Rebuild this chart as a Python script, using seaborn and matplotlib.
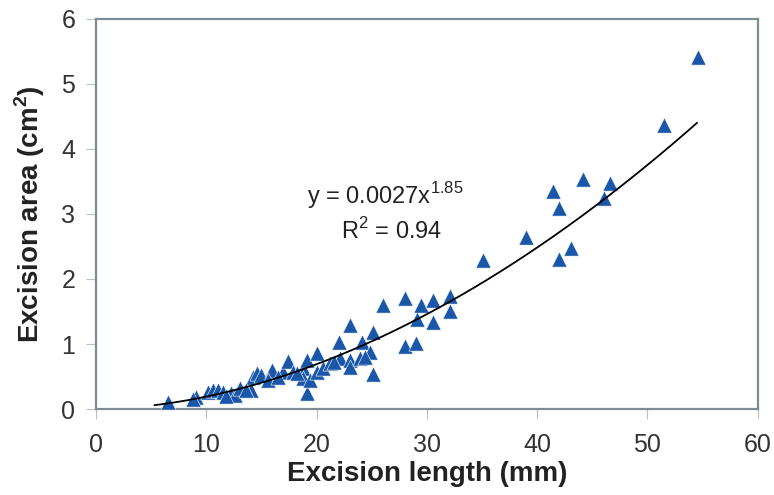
import numpy as np
import pandas as pd
import matplotlib
matplotlib.use('Agg')
import matplotlib.pyplot as plt
import seaborn as sns

# excision length (mm) vs excision area (cm^2)
length_mm = [6.5, 9.1, 10.2, 10.6, 11.1, 11.5, 12.2, 12.6, 13.1, 14.1, 14.2, 14.6,
             15.0, 16.0, 17.0, 17.4, 17.9, 18.8, 18.8, 19.1, 19.1, 19.4, 20.0, 20.0,
             20.6, 21.2, 22.0, 22.1, 23.0, 23.0, 23.0, 23.9, 24.1, 24.8, 25.1, 25.1,
             26.0, 28.0, 28.0, 29.0, 29.1, 29.5, 30.6, 30.6, 32.1, 32.1, 35.1, 39.0,
             41.4, 42.0, 42.0, 43.1, 44.2, 46.1, 46.6, 51.5, 54.6,
             8.8, 11.8, 13.6, 15.6, 16.5, 18.2, 21.6, 24.4]
area_cm2 = [0.11, 0.18, 0.26, 0.29, 0.29, 0.26, 0.25, 0.22, 0.32, 0.29, 0.49, 0.55,
            0.52, 0.60, 0.57, 0.74, 0.57, 0.63, 0.48, 0.75, 0.25, 0.45, 0.86, 0.57,
            0.63, 0.71, 1.03, 0.78, 1.29, 0.75, 0.65, 0.78, 1.03, 0.88, 1.18, 0.54,
            1.60, 1.71, 0.97, 1.01, 1.38, 1.60, 1.68, 1.34, 1.74, 1.51, 2.29, 2.65,
            3.35, 3.09, 2.31, 2.48, 3.54, 3.25, 3.48, 4.37, 5.42,
            0.15, 0.20, 0.30, 0.45, 0.50, 0.55, 0.72, 0.80]

# power trendline y = a * x^b shown in the chart
fit_a = 0.0027
fit_b = 1.85
fit_range = [5.3, 54.5]

df = pd.DataFrame({'length': length_mm, 'area': area_cm2})
fit_x = np.linspace(fit_range[0], fit_range[1], 200)
fit_df = pd.DataFrame({'length': fit_x, 'area': fit_a * fit_x ** fit_b})

sns.set_style('white')
plt.rcParams['font.family'] = ['Liberation Sans', 'DejaVu Sans']
plt.rcParams['mathtext.fontset'] = 'custom'
plt.rcParams['mathtext.rm'] = 'Liberation Sans'
plt.rcParams['mathtext.bf'] = 'Liberation Sans:bold'

fig = plt.figure(figsize=(7.74, 4.95), dpi=100)
ax = fig.add_axes([0.124, 0.1737, 0.855, 0.788])

sns.scatterplot(data=df, x='length', y='area', marker='^', s=120, color='#1a57a8',
                edgecolor='white', linewidth=0.4, ax=ax, zorder=3)
sns.lineplot(data=fit_df, x='length', y='area', color='black', linewidth=1.3, ax=ax, zorder=4)

ax.set_xlim(0, 60)
ax.set_ylim(0, 6)
ax.set_xticks(range(0, 61, 10))
ax.set_yticks(range(0, 7))

spine_col = '#7d8b93'
for s in ax.spines.values():
    s.set_visible(True)
    s.set_color(spine_col)
    s.set_linewidth(1.6)

ax.tick_params(axis='both', direction='out', length=7, width=0.8, color='#b8c0c4',
               bottom=True, left=True, labelsize=18, labelcolor='#333333', pad=8)
ax.tick_params(axis='x', pad=10)

ax.set_xlabel('Excision length (mm)', fontsize=20, fontweight='bold', color='#222222', labelpad=3)
ax.set_ylabel('Excision area (cm$^{\\mathbf{2}}$)', fontsize=20, fontweight='bold', color='#222222', labelpad=10)

ax.text(26.2, 3.29, 'y = 0.0027x$^{1.85}$', ha='center', va='center', fontsize=17, color='#222222')
ax.text(26.8, 2.74, 'R$^{2}$ = 0.94', ha='center', va='center', fontsize=17, color='#222222')

fig.savefig('out.png', dpi=100)
